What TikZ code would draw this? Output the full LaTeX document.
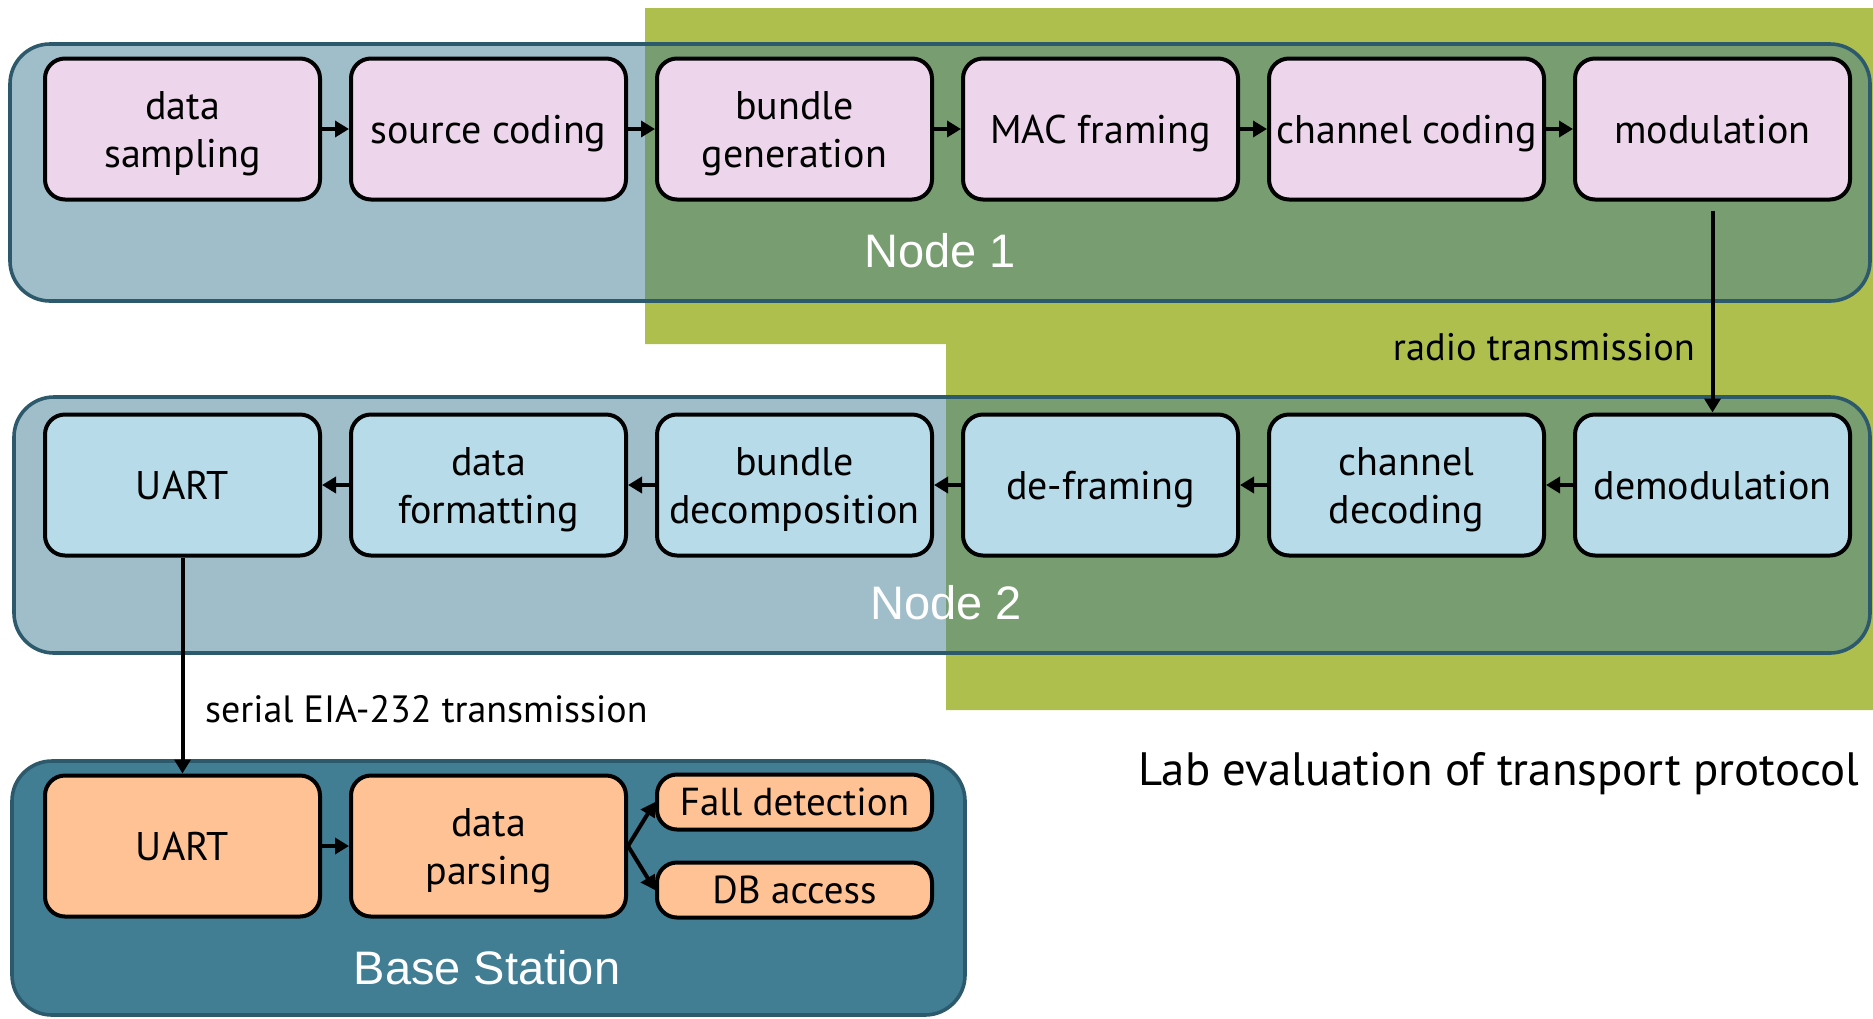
\documentclass[tikz,border=0pt]{standalone}
\usepackage{fontspec}
\setmainfont{PT Sans}
\newfontfamily\labelfont{Liberation Sans}
\usetikzlibrary{positioning,arrows.meta}

\definecolor{boxpink}{HTML}{EDD5EC}
\definecolor{boxblue}{HTML}{B7DBE8}
\definecolor{boxorange}{HTML}{FEC294}
\definecolor{labgreen}{HTML}{AEBF4E}
\definecolor{nodeteal}{HTML}{417D93}
\definecolor{nodeedge}{HTML}{2C5A6C}

\tikzset{
  block/.style={draw=black, line width=2pt, rounded corners=10pt,
    minimum width=137.5pt, minimum height=70.5pt, align=center,
    inner sep=1pt, text depth=0pt, font=\fontsize{20}{24}\selectfont},
  smallblock/.style={block, minimum height=27.5pt, font=\fontsize{19.5}{24}\selectfont},
  container/.style={draw=nodeedge, line width=1.8pt, rounded corners=20pt},
  flow/.style={-{Triangle[length=7pt,width=8pt]}, line width=2pt},
  nodetitle/.style={text=white, font=\labelfont\fontsize{23.5}{28}\selectfont},
}

\begin{document}
\begin{tikzpicture}[x=0.5pt,y=-0.5pt,node distance=153pt,on grid]
\useasboundingbox (0,0) rectangle (1873,1018);
% lab evaluation area
\fill[labgreen] (645,8) -- (1873,8) -- (1873,710) -- (946,710)
  -- (946,344) -- (645,344) -- cycle;
% node containers
\draw[container, fill=nodeteal, fill opacity=0.5] (10,44) rectangle (1870,301);
\draw[container, fill=nodeteal, fill opacity=0.5] (14,397) rectangle (1870,653);
\draw[container, fill=nodeteal] (12,761) rectangle (965,1015);

% Node 1
\node[block, fill=boxpink] (samp) at (182.5,129) {data\\sampling};
\node[block, fill=boxpink] (src) [right=of samp] {source coding};
\node[block, fill=boxpink] (bgen) [right=of src] {bundle\\generation};
\node[block, fill=boxpink] (mac) [right=of bgen] {MAC framing};
\node[block, fill=boxpink] (chcod) [right=of mac] {channel coding};
\node[block, fill=boxpink] (mod) [right=of chcod] {modulation};

% Node 2
\node[block, fill=boxblue] (uart) [below=178pt of samp] {UART};
\node[block, fill=boxblue] (fmt) [right=of uart] {data\\formatting};
\node[block, fill=boxblue] (bdec) [right=of fmt] {bundle\\decomposition};
\node[block, fill=boxblue] (defr) [right=of bdec] {de-framing};
\node[block, fill=boxblue] (chdec) [right=of defr] {channel\\decoding};
\node[block, fill=boxblue] (demod) [right=of chdec] {demodulation};

% Base Station
\node[block, fill=boxorange] (bsuart) [below=180.5pt of uart] {UART};
\node[block, fill=boxorange] (parse) [right=of bsuart] {data\\parsing};
\node[smallblock, fill=boxorange] (fall) at ([xshift=153pt,yshift=22pt]parse) {Fall detection};
\node[smallblock, fill=boxorange] (dbacc) at ([xshift=153pt,yshift=-22pt]parse) {DB access};

% titles
\node[nodetitle] (node1) at (940,251) {Node 1};
\node[nodetitle] (node2) at (946,603) {Node 2};
\node[nodetitle] (base) at (487,968) {Base Station};
\node[anchor=east, font=\fontsize{23.4}{28}\selectfont] (labtitle) at (1866,774)
  {Lab evaluation of transport protocol};

% connectors
\draw[flow] (samp) -- (src);
\draw[flow] (src) -- (bgen);
\draw[flow] (bgen) -- (mac);
\draw[flow] (mac) -- (chcod);
\draw[flow] (chcod) -- (mod);
\draw[flow, shorten <=4.5pt] (mod.south) -- node[pos=0.69, left=4.5pt,
  font=\fontsize{19.2}{24}\selectfont] {radio transmission} (demod.north);
\draw[flow] (demod) -- (chdec);
\draw[flow] (chdec) -- (defr);
\draw[flow] (defr) -- (bdec);
\draw[flow] (bdec) -- (fmt);
\draw[flow] (fmt) -- (uart);
\draw[flow] (uart.south) -- node[pos=0.7, right=7pt,
  font=\fontsize{19}{24}\selectfont] {serial EIA-232 transmission} (bsuart.north);
\draw[flow] (bsuart) -- (parse);
\draw[flow] (parse.east) -- (fall.west);
\draw[flow] (parse.east) -- (dbacc.west);
\end{tikzpicture}
\end{document}
